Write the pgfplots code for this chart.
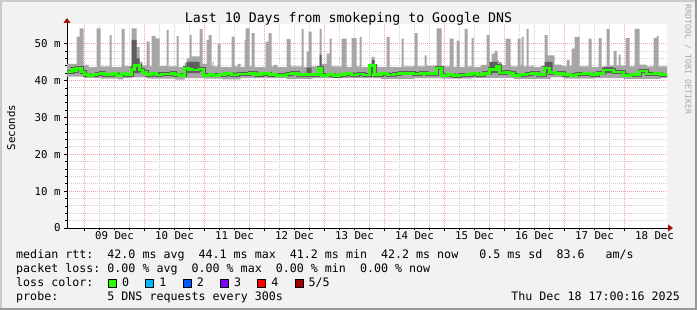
\documentclass[border=0pt]{standalone}
\usepackage{pgfplots}
\pgfplotsset{compat=1.18}
\usepgfplotslibrary{fillbetween}
\usetikzlibrary{arrows.meta}
\usepackage{fontspec}
\setmainfont{DejaVu Sans Mono}
\setmonofont{DejaVu Sans Mono}
\definecolor{bgc}{HTML}{F2F2F2}
\definecolor{shadeA}{HTML}{CBCBCB}
\definecolor{shadeB}{HTML}{999999}
\definecolor{mgrid}{HTML}{F0A0A0}
\definecolor{mingrid}{HTML}{D0D0D0}
\definecolor{smoke}{HTML}{A6A6A6}
\definecolor{smokedark}{HTML}{5E5E5E}
\definecolor{medgreen}{HTML}{26FF00}
\definecolor{arrowc}{HTML}{A81010}
\definecolor{lzero}{HTML}{26FF00}
\definecolor{lone}{HTML}{00B8FF}
\definecolor{ltwo}{HTML}{0059FF}
\definecolor{lthree}{HTML}{7E00FF}
\definecolor{lfour}{HTML}{FF0000}
\definecolor{lfive}{HTML}{A10000}
\definecolor{wmark}{HTML}{A8A8A8}
\pagecolor{bgc}
\begin{document}
\begin{tikzpicture}
\fill[shadeA] (0,0) rectangle (2bp,310bp);
\fill[shadeA] (0,308bp) rectangle (697bp,310bp);
\fill[shadeB] (0,0) rectangle (697bp,2bp);
\fill[shadeB] (695bp,0) rectangle (697bp,310bp);
\begin{axis}[
  at={(67bp,82bp)}, anchor=south west,
  scale only axis, width=600bp, height=204bp,
  xmin=8.7083, xmax=18.7083, ymin=0, ymax=55.3,
  axis background/.style={fill=white},
  axis lines=left,
  x axis line style={black, line width=0.8bp, -{Triangle[width=7bp,length=5bp,color=arrowc]}, shorten >=-6bp},
  y axis line style={black, line width=0.8bp, -{Triangle[width=7bp,length=5bp,color=arrowc]}, shorten >=-6bp},
  xtick={9,10,...,18}, xticklabels={},
  minor x tick num=3,
  extra x ticks={9.5,10.5,11.5,12.5,13.5,14.5,15.5,16.5,17.5,18.5},
  extra x tick labels={09 Dec,10 Dec,11 Dec,12 Dec,13 Dec,14 Dec,15 Dec,16 Dec,17 Dec,18 Dec},
  extra x tick style={xmajorgrids=false, major tick length=0pt},
  ytick={0,10,...,50}, yticklabels={0,10 m,20 m,30 m,40 m,50 m},
  minor y tick num=4,
  grid=both,
  major grid style={mgrid, dash pattern=on 1bp off 1bp, line width=0.8bp},
  minor grid style={mingrid, dash pattern=on 1bp off 1bp, line width=0.8bp},
  tick align=outside, major tick length=3bp, minor tick length=2bp,
  tick style={black, line width=0.6bp},
  ticklabel style={font=\fontsize{10.8}{12}\selectfont},
]
\addplot[name path=up, draw=none, const plot, forget plot] coordinates {
(8.7083,44.5)(8.8667,51.9)(8.9167,54.1)(8.9833,44.2)(9.0667,43.6)(9.2,54.1)(9.2667,43.8)(9.4167,52.3)(9.45,43.6)(9.6167,54.0)(9.6667,43.9)(9.7833,54.1)(9.8667,49.0)(9.9167,45.0)(9.9667,44.0)(10.0333,50.5)(10.0833,43.8)(10.1167,52.0)(10.1833,51.4)(10.25,43.9)(10.3667,53.7)(10.4,43.8)(10.5333,52.0)(10.5667,43.6)(10.6667,44.8)(10.7,46.0)(10.75,52.3)(10.7833,46.5)(10.9167,54.0)(10.9667,44.5)(11.0333,51.0)(11.0667,52.3)(11.1167,44.0)(11.1333,45.0)(11.15,43.8)(11.2167,50.0)(11.2667,43.6)(11.45,51.9)(11.5,43.8)(11.55,44.5)(11.6,43.6)(11.6667,51.0)(11.6833,54.1)(11.75,43.8)(11.7833,52.8)(11.8333,43.6)(12.0167,50.5)(12.0667,52.8)(12.1167,43.8)(12.15,44.2)(12.2167,43.6)(12.3667,51.2)(12.4333,43.8)(12.6167,54.0)(12.65,43.6)(12.7,47.8)(12.7333,53.2)(12.7833,43.8)(12.9167,54.0)(12.95,44.5)(13.0333,47.3)(13.0833,51.3)(13.1167,43.8)(13.2833,51.3)(13.3667,43.6)(13.45,51.5)(13.5333,43.8)(13.5833,51.8)(13.6167,43.6)(13.75,44.5)(13.7833,46.4)(13.8333,44.2)(13.8833,43.6)(14.0333,51.8)(14.0833,43.6)(14.2833,51.3)(14.3167,43.8)(14.5,52.8)(14.55,43.8)(14.6667,46.8)(14.7,44.0)(14.8667,54.1)(14.95,43.8)(15.0833,51.3)(15.15,43.6)(15.2,50.8)(15.25,43.6)(15.3333,54.0)(15.3833,43.8)(15.45,51.5)(15.4833,43.6)(15.6,44.2)(15.7,52.3)(15.75,45.0)(15.7833,47.3)(15.8333,48.0)(15.8833,45.5)(15.9,45.0)(15.95,44.2)(16.0167,51.3)(16.1,43.8)(16.2167,51.3)(16.2667,44.0)(16.2833,51.8)(16.3167,43.8)(16.3667,54.0)(16.4,43.8)(16.45,44.0)(16.4833,43.6)(16.6,44.0)(16.6667,52.3)(16.7167,46.8)(16.8333,44.3)(16.95,44.0)(16.9833,43.8)(17.0333,45.5)(17.0833,44.0)(17.1167,48.6)(17.1667,51.8)(17.25,43.8)(17.4,51.3)(17.45,43.6)(17.5667,51.5)(17.6167,43.8)(17.7,54.0)(17.75,44.0)(17.8167,48.0)(17.8667,44.0)(17.9,47.0)(17.9333,44.0)(18.0167,51.5)(18.0833,43.8)(18.1667,54.0)(18.25,44.3)(18.3667,43.8)(18.4833,51.5)(18.5333,52.0)(18.5667,43.8)(18.7083,43.8)
};
\addplot[name path=lo, draw=none, const plot, forget plot] coordinates {
(8.7083,41.0)(9.0,40.7)(9.2667,40.5)(9.55,40.3)(9.65,40.6)(9.7833,40.8)(10.0333,40.5)(10.5167,40.2)(10.6667,40.6)(10.9833,40.5)(11.3,40.3)(11.6,40.6)(12.3667,40.4)(12.8,40.6)(13.25,40.6)(13.9333,40.4)(14.5,40.6)(14.95,40.5)(15.45,40.7)(16.15,40.4)(16.7667,40.8)(16.9833,40.5)(17.5,40.6)(17.9833,40.4)(18.6,40.6)(18.7083,40.6)
};
\addplot[smoke, draw=none, forget plot] fill between[of=up and lo];
\addplot[name path=dk, draw=none, const plot, forget plot] coordinates {
(8.7083,42)(9.7833,51)(9.8667,46)(9.9167,42)(10.7,45)(10.9167,42)(12.7,43.5)(12.7833,42)(12.9167,47)(12.95,42)(13.7833,45.5)(13.8333,42)(15.75,45)(15.8833,42)(16.6667,45)(16.8,42)(17.65,43.6)(17.8167,42)(18.7083,42)
};
\addplot[name path=dkbase, draw=none, forget plot] coordinates {(8.7083,42)(18.7083,42)};
\addplot[smokedark, draw=none, forget plot] fill between[of=dk and dkbase];
\pgfplotstableread{
x y
8.7083 42.3
8.7833 43.0
8.8333 42.6
8.8667 43.3
8.95 42.3
9.0 41.6
9.0667 41.4
9.13 41.6
9.2 41.7
9.27 41.9
9.33 41.6
9.4167 41.6
9.47 41.8
9.5333 41.4
9.6167 41.8
9.68 41.6
9.7833 43.0
9.8333 44.0
9.9167 42.8
9.97 42.2
10.0333 41.6
10.12 41.8
10.2 41.5
10.28 41.7
10.3667 41.7
10.45 41.9
10.5 41.6
10.5833 41.4
10.6667 43.4
10.7333 43.0
10.8 42.8
10.9 43.1
10.9833 41.4
11.08 41.6
11.15 41.4
11.25 41.6
11.35 41.8
11.45 41.5
11.55 41.7
11.65 41.7
11.75 41.9
11.85 41.6
11.95 41.8
12.0833 41.6
12.2 41.4
12.3667 41.7
12.45 41.9
12.55 41.6
12.7333 41.6
12.9 43.4
12.95 41.4
13.05 41.6
13.15 41.3
13.25 41.6
13.35 41.8
13.45 41.5
13.55 41.7
13.65 41.5
13.75 44.0
13.8333 41.6
13.95 41.8
14.05 41.5
14.15 41.7
14.25 41.9
14.3667 41.9
14.4833 41.7
14.6 41.9
14.7 41.8
14.8667 43.4
14.95 41.4
15.05 41.6
15.15 41.3
15.25 41.5
15.3667 41.6
15.45 41.8
15.55 41.6
15.65 41.9
15.75 43.0
15.8667 43.8
15.9167 42.0
16.0 42.2
16.08 41.9
16.15 41.4
16.25 41.6
16.3667 41.7
16.45 41.9
16.55 41.6
16.6667 43.4
16.75 42.1
16.85 41.9
16.9833 41.6
17.1 41.4
17.2 41.7
17.3167 41.8
17.45 41.6
17.55 41.9
17.65 42.8
17.8167 42.3
17.9833 41.4
18.1 41.6
18.25 42.6
18.3667 41.7
18.5 41.8
18.6 41.6
18.7083 41.8
}\medtable
\addplot[const plot, smokedark, line width=4.0bp, forget plot] table {\medtable};
\addplot[const plot, medgreen, line width=2.6bp, forget plot] table {\medtable};
\end{axis}
\begin{scope}[x=1bp,y=1bp]
\node[anchor=base, font=\fontsize{13.3}{15}\selectfont, inner sep=0pt] at (348.5,288) {Last 10 Days from smokeping to Google DNS};
\node[rotate=90, font=\fontsize{10.8}{12}\selectfont, inner sep=0pt] at (11,182.5) {Seconds};
\node[rotate=-90, font=\fontsize{8.3}{9}\selectfont, text=wmark, inner sep=0pt] at (688,250.5) {RRDTOOL / TOBI OETIKER};
\begin{scope}[every node/.style={anchor=base west, inner sep=0pt, font=\fontsize{11.7}{13}\selectfont\frenchspacing}]
\node at (16,52) {median rtt:~~42.0~ms~avg~~44.1~ms~max~~41.2~ms~min~~42.2~ms~now~~~0.5~ms~sd~~83.6~~~am/s};
\node at (16,38) {packet loss:~0.00~\%~avg~~0.00~\%~max~~0.00~\%~min~~0.00~\%~now};
\node at (16,24) {loss color:};
\node at (122,24) {0};
\node at (159.3,24) {1};
\node at (196.6,24) {2};
\node at (233.9,24) {3};
\node at (271.2,24) {4};
\node at (308.5,24) {5/5};
\node at (16,10) {probe:~~~~~~~5~DNS~requests~every~300s};
\node[anchor=base east] at (680,10) {Thu~Dec~18~17:00:16~2025};
\end{scope}
\draw[black, line width=0.8bp, fill=lzero] (108.5,23) rectangle (116.5,31);
\draw[black, line width=0.8bp, fill=lone] (145.8,23) rectangle (153.8,31);
\draw[black, line width=0.8bp, fill=ltwo] (183.1,23) rectangle (191.1,31);
\draw[black, line width=0.8bp, fill=lthree] (220.4,23) rectangle (228.4,31);
\draw[black, line width=0.8bp, fill=lfour] (257.7,23) rectangle (265.7,31);
\draw[black, line width=0.8bp, fill=lfive] (295,23) rectangle (303,31);
\end{scope}
\end{tikzpicture}
\end{document}
